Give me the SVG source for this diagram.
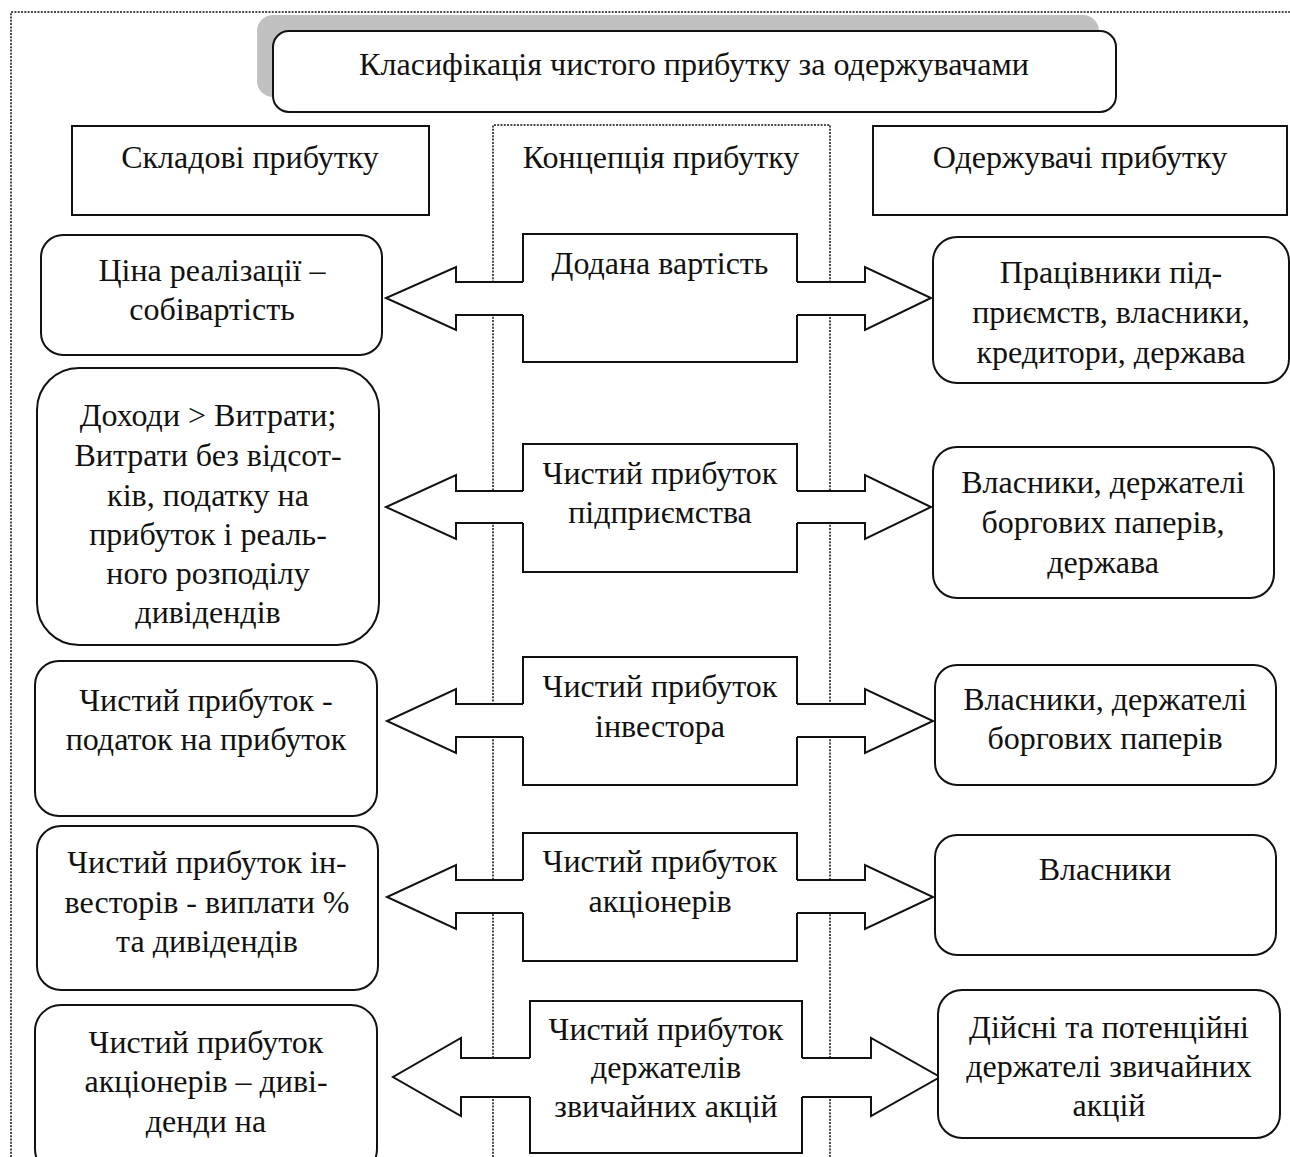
<svg xmlns="http://www.w3.org/2000/svg" width="1290" height="1157" viewBox="0 0 1290 1157">
<style>
text{font-family:"Liberation Serif","Times New Roman",serif;font-size:32px;fill:#111;text-anchor:middle}
.box{fill:#fff;stroke:#111;stroke-width:2}
.edge{fill:none;stroke:#111;stroke-width:2;stroke-linejoin:miter}
.arr{fill:#fff;stroke:#111;stroke-width:2;stroke-linejoin:miter}
.dot{fill:none;stroke:#111;stroke-width:1.5;stroke-dasharray:2 1.3}
.cfill{fill:#fff;stroke:none}
</style>
<rect width="1290" height="1157" fill="#fff"/>
<g id="frame">
<path class="dot" d="M11,1157 V12 H1290"/>
<path class="dot" d="M493,1157 V125 H830 V1157"/>
</g>
<g id="title">
<rect x="257" y="15" width="842" height="82" rx="16" fill="#c0c0c0"/>
<rect class="box" x="273" y="31" width="843" height="81" rx="16"/>
<text x="694" y="75" font-size="34" textLength="670" lengthAdjust="spacingAndGlyphs">Класифікація чистого прибутку за одержувачами</text>
</g>
<g id="head-left">
<rect class="box" x="72" y="126" width="357" height="89"/>
<text x="250" y="168">Складові прибутку</text>
</g>
<g id="head-center">
<text x="661" y="168">Концепція прибутку</text>
</g>
<g id="head-right">
<rect class="box" x="873" y="126" width="414" height="89"/>
<text x="1080" y="168">Одержувачі прибутку</text>
</g>
<g id="connectors">
<path class="arr" d="M523,282 H456 V267 L386,298 L456,330 V315 H523"/>
<path class="arr" d="M797,282 H865 V267 L931,298 L865,330 V315 H797"/>
<path class="arr" d="M523,491 H456 V475 L386,507 L456,539 V523 H523"/>
<path class="arr" d="M797,491 H865 V475 L931,507 L865,539 V523 H797"/>
<path class="arr" d="M523,704 H456 V689 L387,721 L456,753 V737 H523"/>
<path class="arr" d="M797,704 H865 V689 L933,721 L865,753 V737 H797"/>
<path class="arr" d="M523,880 H456 V865 L387,897 L456,929 V913 H523"/>
<path class="arr" d="M797,880 H865 V865 L933,897 L865,929 V913 H797"/>
<path class="arr" d="M530,1058 H461 V1038 L393,1077 L461,1116 V1097 H530"/>
<path class="arr" d="M802,1058 H871 V1038 L940,1077 L871,1116 V1097 H802"/>
</g>
<g id="left-1">
<rect class="box" x="41" y="235" width="341" height="120" rx="22"/>
<text x="212" y="281">Ціна реалізації –</text>
<text x="212" y="320">собівартість</text>
</g>
<g id="left-2">
<rect class="box" x="37" y="368" width="342" height="277" rx="42"/>
<text x="208" y="426">Доходи &gt; Витрати;</text>
<text x="208" y="466">Витрати без відсот-</text>
<text x="208" y="506">ків, податку на</text>
<text x="208" y="545">прибуток і реаль-</text>
<text x="208" y="584">ного розподілу</text>
<text x="208" y="623">дивідендів</text>
</g>
<g id="left-3">
<rect class="box" x="35" y="661" width="342" height="155" rx="24"/>
<text x="206" y="711">Чистий прибуток -</text>
<text x="206" y="750">податок на прибуток</text>
</g>
<g id="left-4">
<rect class="box" x="37" y="826" width="341" height="164" rx="24"/>
<text x="207" y="873">Чистий прибуток ін-</text>
<text x="207" y="913">весторів - виплати %</text>
<text x="207" y="952">та дивідендів</text>
</g>
<g id="left-5">
<rect class="box" x="35" y="1005" width="342" height="170" rx="26"/>
<text x="206" y="1053">Чистий прибуток</text>
<text x="206" y="1092">акціонерів – диві-</text>
<text x="206" y="1132">денди на</text>
</g>
<g id="center-1">
<rect class="cfill" x="523" y="234" width="274" height="128"/>
<path class="edge" d="M523,282 V234 H797 V282 M797,315 V362 H523 V315"/>
<text x="660" y="274">Додана вартість</text>
</g>
<g id="center-2">
<rect class="cfill" x="523" y="444" width="274" height="128"/>
<path class="edge" d="M523,491 V444 H797 V491 M797,523 V572 H523 V523"/>
<text x="660" y="484">Чистий прибуток</text>
<text x="660" y="523">підприємства</text>
</g>
<g id="center-3">
<rect class="cfill" x="523" y="657" width="274" height="128"/>
<path class="edge" d="M523,704 V657 H797 V704 M797,737 V785 H523 V737"/>
<text x="660" y="697">Чистий прибуток</text>
<text x="660" y="737">інвестора</text>
</g>
<g id="center-4">
<rect class="cfill" x="523" y="833" width="274" height="128"/>
<path class="edge" d="M523,880 V833 H797 V880 M797,913 V961 H523 V913"/>
<text x="660" y="872">Чистий прибуток</text>
<text x="660" y="912">акціонерів</text>
</g>
<g id="center-5">
<rect class="cfill" x="530" y="1001" width="272" height="152"/>
<path class="edge" d="M530,1058 V1001 H802 V1058 M802,1097 V1153 H530 V1097"/>
<text x="666" y="1040">Чистий прибуток</text>
<text x="666" y="1078">держателів</text>
<text x="666" y="1117">звичайних акцій</text>
</g>
<g id="right-1">
<rect class="box" x="933" y="237" width="356" height="146" rx="24"/>
<text x="1111" y="283">Працівники під-</text>
<text x="1111" y="323">приємств, власники,</text>
<text x="1111" y="363">кредитори, держава</text>
</g>
<g id="right-2">
<rect class="box" x="933" y="447" width="341" height="151" rx="24"/>
<text x="1103" y="493">Власники, держателі</text>
<text x="1103" y="533">боргових паперів,</text>
<text x="1103" y="573">держава</text>
</g>
<g id="right-3">
<rect class="box" x="935" y="665" width="341" height="120" rx="22"/>
<text x="1105" y="710">Власники, держателі</text>
<text x="1105" y="749">боргових паперів</text>
</g>
<g id="right-4">
<rect class="box" x="935" y="835" width="341" height="120" rx="22"/>
<text x="1105" y="880">Власники</text>
</g>
<g id="right-5">
<rect class="box" x="938" y="990" width="342" height="148" rx="24"/>
<text x="1109" y="1038">Дійсні та потенційні</text>
<text x="1109" y="1077">держателі звичайних</text>
<text x="1109" y="1116">акцій</text>
</g>
</svg>
